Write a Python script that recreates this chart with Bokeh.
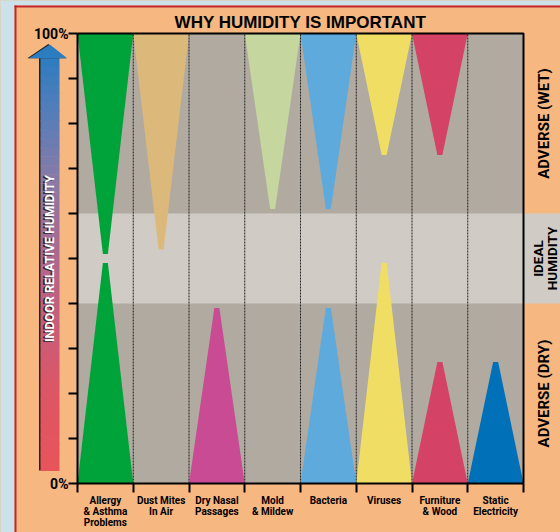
from math import pi
from bokeh.plotting import figure
from bokeh.models import Range1d, FixedTicker, LinearAxis, Label
from bokeh.embed import file_html
from bokeh.resources import INLINE

# ---------------- data ----------------
categories = ["Allergy\n& Asthma\nProblems", "Dust Mites\nIn Air", "Dry Nasal\nPassages",
              "Mold\n& Mildew", "Bacteria", "Viruses", "Furniture\n& Wood", "Static\nElectricity"]
# humidity (%) where the adverse "wet" effect tapers off (None = no wet effect)
wet_threshold = [51, 52, None, 61, 61, 73, 73, None]
# humidity (%) where the adverse "dry" effect tapers off (None = no dry effect)
dry_threshold = [49, None, 39, None, 39, 49, 27, 27]
colors = ["#00a23a", "#dcb97a", "#c84b94", "#c5d69e", "#5eaadc", "#f0de64", "#d44266", "#0070b8"]
ideal_range = [40, 60]
y_ticks = list(range(0, 101, 10))
y_tick_text = {0: "0%", 100: "100%"}
zone_labels = ["ADVERSE (WET)", "IDEAL\nHUMIDITY", "ADVERSE (DRY)"]
title_text = "WHY HUMIDITY IS IMPORTANT"
axis_text = "INDOOR RELATIVE HUMIDITY"

# ---------------- style / layout ----------------
ORANGE = "#f6b780"
GRAY = "#b0aaa1"
BAND = "#d0ccc5"
PAGE_BG = "#cde1eb"
RED = "#c0282f"
FONT = "Roboto"
TFONT = "Liberation Sans"

W, H = 560, 532
X0_PX, Y0_PX = 77, 483          # pixel position of data origin
PX_COL, PX_PCT = 55.75, 4.5     # pixels per category / per percent
n = len(categories)

def dx(px):  # page x pixel -> data x
    return (px - X0_PX) / PX_COL

def dy(py):  # page y pixel -> data y
    return (Y0_PX - py) / PX_PCT

TIP = 0.045

p = figure(width=W, height=H, x_range=Range1d(dx(0), dx(W)), y_range=Range1d(dy(H), dy(0)),
           x_axis_location=None, y_axis_location=None,
           output_backend="svg", toolbar_location=None,
           min_border_left=0, min_border_right=0, min_border_top=0, min_border_bottom=0,
           background_fill_color=ORANGE, border_fill_color=ORANGE, outline_line_color=None)
p.title.visible = False
p.xgrid.visible = False
p.ygrid.visible = False

# page edge (light blue) and red frame
p.quad(left=[dx(0), dx(0)], right=[dx(14), dx(W)], bottom=[dy(H), dy(5)], top=[dy(0), dy(0)],
       fill_color=PAGE_BG, line_color=None)
p.quad(left=[dx(14), dx(14)], right=[dx(16), dx(W)], bottom=[dy(H), dy(7)], top=[dy(5), dy(5)],
       fill_color=RED, line_color=None)

# plot area and ideal band
p.quad(left=0, right=n, bottom=0, top=100, fill_color=GRAY, line_color=None)
p.quad(left=0, right=dx(W), bottom=ideal_range[0], top=ideal_range[1], fill_color=BAND, line_color=None)

# wedges
xs, ys, cs = [], [], []
for i in range(n):
    c = i + 0.5
    if wet_threshold[i] is not None:
        xs.append([i, i + 1, c + TIP, c - TIP])
        ys.append([100, 100, wet_threshold[i], wet_threshold[i]])
        cs.append(colors[i])
    if dry_threshold[i] is not None:
        xs.append([i, i + 1, c + TIP, c - TIP])
        ys.append([0, 0, dry_threshold[i], dry_threshold[i]])
        cs.append(colors[i])
p.patches(xs=xs, ys=ys, fill_color=cs, line_color=None)

# column separators
seps = list(range(1, n))
p.segment(x0=seps, y0=[0] * len(seps), x1=seps, y1=[100] * len(seps),
          line_color="#222222", line_width=1, line_dash="2 1")

# top and right border of plot area
p.line(x=[0, n, n], y=[100, 100, 0], line_color="black", line_width=2)

# ---------------- axes (fixed at the data origin) ----------------
xa = LinearAxis(fixed_location=0)
p.add_layout(xa, "below")
xa.ticker = FixedTicker(ticks=[i + 0.5 for i in range(n)], minor_ticks=list(range(n + 1)))
xa.major_label_overrides = {i + 0.5: categories[i] for i in range(n)}
xa.bounds = (0, n)
xa.axis_line_width = 2
xa.axis_line_color = "black"
xa.major_tick_line_color = None
xa.major_tick_out = 9
xa.major_tick_in = 0
xa.minor_tick_out = 9
xa.minor_tick_in = 0
xa.minor_tick_line_width = 2
xa.minor_tick_line_color = "black"
xa.major_label_standoff = 2
xa.major_label_text_font = FONT
xa.major_label_text_font_style = "bold"
xa.major_label_text_font_size = "10px"
xa.major_label_text_line_height = 1.0
xa.major_label_text_color = "black"

ya = LinearAxis(fixed_location=0)
p.add_layout(ya, "left")
ya.ticker = FixedTicker(ticks=y_ticks, minor_ticks=[])
ya.major_label_overrides = {t: y_tick_text.get(t, "") for t in y_ticks}
ya.bounds = (0, 100)
ya.axis_line_width = 2
ya.axis_line_color = "black"
ya.major_tick_line_width = 2
ya.major_tick_line_color = "black"
ya.major_tick_out = 9
ya.major_tick_in = 0
ya.minor_tick_line_color = None
ya.major_label_standoff = 0
ya.major_label_text_font = FONT
ya.major_label_text_font_style = "bold"
ya.major_label_text_font_size = "14px"
ya.major_label_text_color = "black"

# ---------------- gradient arrow ----------------
stops = [(0.0, (44, 124, 192)), (0.15, (90, 125, 185)), (0.3, (137, 122, 166)),
         (0.55, (185, 98, 135)), (0.8, (220, 86, 102)), (1.0, (232, 84, 90))]

def grad(t):
    for (t0, c0), (t1, c1) in zip(stops[:-1], stops[1:]):
        if t <= t1:
            f = (t - t0) / (t1 - t0)
            return "#%02x%02x%02x" % tuple(int(round(a + (b - a) * f)) for a, b in zip(c0, c1))
    return "#%02x%02x%02x" % stops[-1][1]

shaft_top_px, shaft_bot_px = 57, 470
NS = 46
hpx = (shaft_bot_px - shaft_top_px) / NS
p.quad(left=dx(38.5), right=dx(40.5), bottom=dy(shaft_bot_px), top=dy(shaft_top_px),
       fill_color="#222222", line_color=None)
p.quad(left=[dx(40)] * NS, right=[dx(59)] * NS,
       top=[dy(shaft_top_px + k * hpx) for k in range(NS)],
       bottom=[dy(shaft_top_px + (k + 1) * hpx + 0.6) for k in range(NS)],
       fill_color=[grad((k + 0.5) / NS) for k in range(NS)], line_color=None)
p.patch(x=[dx(26.8), dx(47.8), dx(65.2)], y=[dy(57.7), dy(43.5), dy(57.7)],
        fill_color="#222222", line_color=None)
p.patch(x=[dx(28.3), dx(49.3), dx(66.7)], y=[dy(57.7), dy(44), dy(57.7)],
        fill_color="#2c7cc0", line_color=None)

for off, col in [(-1.5, "#2a2a2a"), (0, "white")]:
    p.add_layout(Label(x=dx(48.5 + off), y=dy(258 - off * 0.5), text=axis_text, angle=pi / 2,
                       text_align="center", text_baseline="middle",
                       text_font=FONT, text_font_style="bold", text_font_size="12.5px",
                       text_color=col))

# ---------------- title ----------------
p.add_layout(Label(x=n / 2, y=dy(21.5), text=title_text, text_align="center", text_baseline="middle",
                   text_font=TFONT, text_font_style="bold", text_font_size="17px",
                   text_color="black"))

# ---------------- zone labels on the right ----------------
zone_y = [(ideal_range[1] + 100) / 2, sum(ideal_range) / 2, ideal_range[0] / 2]
zone_x = [dx(543), dx(544.5), dx(543)]
zone_size = ["15px", "13.5px", "15px"]
for txt, zx, zy, fs in zip(zone_labels, zone_x, zone_y, zone_size):
    p.add_layout(Label(x=zx, y=zy, text=txt, angle=pi / 2, text_align="center",
                       text_baseline="middle", text_font=FONT, text_font_style="bold",
                       text_font_size=fs, text_line_height=0.85, text_color="black"))

html = file_html(p, INLINE, title="Why humidity is important")
html = html.replace("</head>",
                    "<style>html,body{margin:0;padding:0;overflow:hidden;background:%s;}</style></head>" % PAGE_BG, 1)
open("out.html", "w").write(html)
